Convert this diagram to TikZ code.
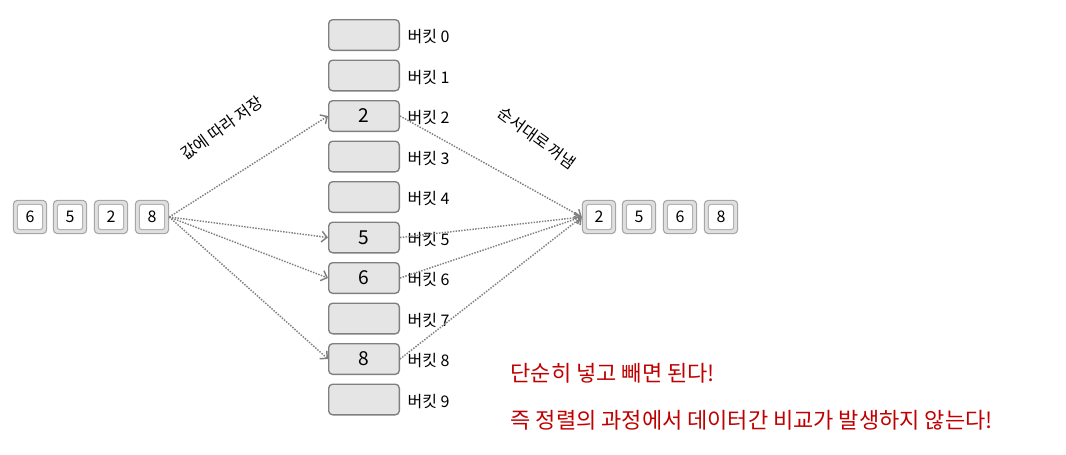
\documentclass[tikz,border=0pt]{standalone}
\usepackage{fontspec}
\setmainfont{Noto Sans CJK KR}
\usetikzlibrary{arrows.meta}
\begin{document}
\begin{tikzpicture}[x=0.75pt,y=-0.75pt]
\tikzset{keycap/.style={draw=gray!70, fill=gray!25, rounded corners=3pt, minimum width=25pt, minimum height=25pt, line width=0.8pt, inner sep=0pt, font=\large,
    path picture={\draw[gray!60, fill=white, rounded corners=2pt] ([shift={(3pt,3pt)}]path picture bounding box.south west) rectangle ([shift={(-3pt,-3pt)}]path picture bounding box.north east);}}}
\tikzset{bucket/.style={draw=gray, fill=gray!20, rounded corners=3pt, minimum width=53pt, minimum height=23pt, line width=1pt, inner sep=0pt, font=\Large}}
\tikzset{mystyle/.style={-{Straight Barb[length=4pt]}, gray, line width=1.1pt, densely dotted}}
\useasboundingbox (0,0) rectangle (1066,454);
% input
\node[keycap] (i0) at (30,217) {6};
\node[keycap] (i1) at (70,217) {5};
\node[keycap] (i2) at (111,217) {2};
\node[keycap] (i3) at (152,217) {8};
% output
\node[keycap] (o0) at (599,217) {2};
\node[keycap] (o1) at (639,217) {5};
\node[keycap] (o2) at (680,217) {6};
\node[keycap] (o3) at (721,217) {8};
% buckets
\foreach \i/\v in {0/,1/,2/2,3/,4/,5/5,6/6,7/,8/8,9/} {
  \node[bucket] (b\i) at (364,35+40.5*\i) {\v};
  \node[anchor=west, font=\fontsize{12}{14}\selectfont, inner sep=1pt] (l\i) at (406,37+40.5*\i) {버킷 \i};
}
\foreach \i in {2,5,6,8} {
  \path (i3.east) edge [mystyle] (b\i.west);
  \path (b\i.east) edge [mystyle] (o0.west);
}
\node[rotate=36, font=\fontsize{12}{14}\selectfont, inner sep=0pt] (t1) at (222,128) {값에 따라 저장};
\node[rotate=-36, font=\fontsize{12}{14}\selectfont, inner sep=0pt] (t2) at (537,138) {순서대로 꺼냄};
\node[anchor=west, text=red!75!black, font=\fontsize{16.5}{20}\selectfont] (r1) at (506,373) {단순히 넣고 빼면 된다!};
\node[anchor=west, text=red!75!black, font=\fontsize{16.5}{20}\selectfont] (r2) at (506,420) {즉 정렬의 과정에서 데이터간 비교가 발생하지 않는다!};
\end{tikzpicture}
\end{document}
